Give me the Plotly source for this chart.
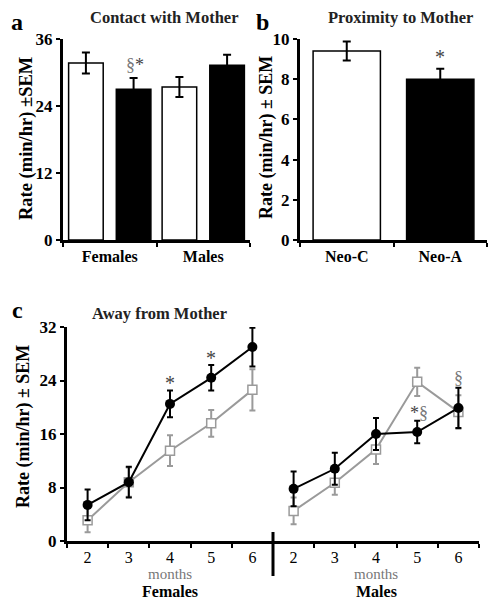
import plotly.graph_objects as go

W, H = 497, 606
SERIF = "Liberation Serif, Times New Roman, serif"
OFF = 8  # page body margin offset

# ---- Panel a data ----
groups_a = ["Females", "Males"]
neo_c_a = [31.7, 27.4]
neo_c_a_err = [1.9, 1.8]
neo_a_a = [27.0, 31.3]
neo_a_a_err = [2.0, 1.9]

# ---- Panel b data ----
groups_b = ["Neo-C", "Neo-A"]
prox_vals = [9.4, 8.0]
prox_err = [0.47, 0.52]

# ---- Panel c data ----
months = ["2", "3", "4", "5", "6"]
away_black_f = [5.4, 8.8, 20.5, 24.4, 29.0]
away_black_f_err = [2.3, 2.3, 2.0, 1.9, 2.9]
away_white_f = [3.1, 8.8, 13.5, 17.6, 22.6]
away_white_f_err = [1.8, 2.2, 2.3, 2.0, 3.1]
away_black_m = [7.8, 10.8, 16.0, 16.3, 19.9]
away_black_m_err = [2.6, 2.4, 2.4, 1.7, 3.0]
away_white_m = [4.5, 8.7, 13.7, 23.8, 19.3]
away_white_m_err = [2.0, 1.8, 2.2, 2.1, 2.5]


def px(x):
    return (x - OFF) / W


def py(y):
    return 1 - (y - OFF) / H


fig = go.Figure()

# Panel a
fig.add_trace(go.Bar(x=groups_a, y=neo_c_a, width=0.37, offset=-0.44,
                     marker=dict(color="white", line=dict(color="black", width=1.5)),
                     error_y=dict(type="data", array=neo_c_a_err, color="black", thickness=2, width=4),
                     xaxis="x", yaxis="y", showlegend=False))
fig.add_trace(go.Bar(x=groups_a, y=neo_a_a, width=0.37, offset=0.07,
                     marker=dict(color="black", line=dict(color="black", width=1.5)),
                     error_y=dict(type="data", array=neo_a_a_err, color="black", thickness=2, width=4),
                     xaxis="x", yaxis="y", showlegend=False))

# Panel b
fig.add_trace(go.Bar(x=groups_b, y=prox_vals, width=0.72,
                     marker=dict(color=["white", "black"], line=dict(color="black", width=1.5)),
                     error_y=dict(type="data", array=prox_err, color="black", thickness=2, width=4),
                     xaxis="x2", yaxis="y2", showlegend=False))

# Panel c
xf = list(range(0, 5))
xm = list(range(5, 10))
GRAY = "#9a9a9a"
for xs, ys, es in [(xf, away_white_f, away_white_f_err), (xm, away_white_m, away_white_m_err)]:
    fig.add_trace(go.Scatter(x=xs, y=ys, mode="lines+markers",
                             line=dict(color=GRAY, width=2),
                             marker=dict(symbol="square", size=9, color="white",
                                         line=dict(color=GRAY, width=1.5)),
                             error_y=dict(type="data", array=es, color=GRAY, thickness=2, width=3),
                             xaxis="x3", yaxis="y3", showlegend=False))
for xs, ys, es in [(xf, away_black_f, away_black_f_err), (xm, away_black_m, away_black_m_err)]:
    fig.add_trace(go.Scatter(x=xs, y=ys, mode="lines+markers",
                             line=dict(color="black", width=2),
                             marker=dict(symbol="circle", size=10, color="black"),
                             error_y=dict(type="data", array=es, color="black", thickness=2, width=3),
                             xaxis="x3", yaxis="y3", showlegend=False))

axis_common = dict(showline=True, linecolor="black", linewidth=3, showgrid=False,
                   zeroline=False, ticks="outside", tickcolor="black", tickwidth=2, ticklen=4,
                   automargin=False)
bold_tick = dict(family=SERIF, size=16, color="black", weight="bold")
ybold_tick = dict(family=SERIF, size=17, color="black", weight="bold")

fig.update_layout(
    template="none",
    width=W, height=H, margin=dict(l=0, r=0, t=0, b=0, pad=0), autosize=False,
    paper_bgcolor="white", plot_bgcolor="white",
    barmode="overlay",
    xaxis=dict(domain=[px(63), px(250)], anchor="y", type="category",
               tickson="boundaries", range=[-0.5, 1.5], tickfont=bold_tick, **axis_common),
    yaxis=dict(domain=[py(240), py(39)], anchor="x", range=[0, 36],
               tickvals=[0, 12, 24, 36], tickfont=ybold_tick, **axis_common),
    xaxis2=dict(domain=[px(300), px(487)], anchor="y2", type="category",
                tickson="boundaries", range=[-0.5, 1.5], tickfont=bold_tick, **axis_common),
    yaxis2=dict(domain=[py(240), py(39)], anchor="x2", range=[0, 10],
                tickvals=[0, 2, 4, 6, 8, 10], tickfont=ybold_tick, **axis_common),
    xaxis3=dict(domain=[px(67), px(479)], anchor="y3", range=[-0.5, 9.5], automargin=False,
                showline=True, linecolor="black", linewidth=3, showgrid=False, zeroline=False,
                tickmode="array", tickvals=list(range(10)), ticktext=months + months,
                ticks="", tickfont=dict(family=SERIF, size=16, color="black"),
                minor=dict(tickvals=[-0.5, 0.5, 1.5, 2.5, 3.5, 5.5, 6.5, 7.5, 8.5, 9.5],
                           ticks="outside", ticklen=4, tickwidth=2, tickcolor="black",
                           showgrid=False)),
    yaxis3=dict(domain=[py(541), py(327)], anchor="x3", range=[0, 32],
                tickvals=[0, 8, 16, 24, 32], tickfont=ybold_tick, **axis_common),
)


def pa(text, x, y, size, color="black", angle=0):
    return dict(text=text, x=px(x), y=py(y), xref="paper", yref="paper",
                xanchor="center", yanchor="middle", textangle=angle,
                showarrow=False, font=dict(family=SERIF, size=size, color=color))


def da(text, x, y, xr, yr, size, color="#444"):
    return dict(text=text, x=x, y=y, xref=xr, yref=yr, xanchor="center", yanchor="middle",
                showarrow=False, font=dict(family=SERIF, size=size, color=color))


ann = []
ann.append(pa("<b>a</b>", 17, 22, 24))
ann.append(pa("<b>Contact with Mother</b>", 164, 18, 16.5, "#222"))
ann.append(pa("<b>b</b>", 262, 22, 24))
ann.append(pa("<b>Proximity to Mother</b>", 400, 18, 16.5, "#222"))
ann.append(pa("<b>c</b>", 17, 310, 24))
ann.append(pa("<b>Away from Mother</b>", 159, 313, 16.5, "#222"))
ann.append(pa("<b>Rate (min/hr) ±SEM</b>", 26, 139, 18.5, angle=-90))
ann.append(pa("<b>Rate (min/hr) ± SEM</b>", 266, 138, 18, angle=-90))
ann.append(pa("<b>Rate (min/hr) ± SEM</b>", 23, 427, 18, angle=-90))
# Significance marks
ann.append(da("<span style='color:#777'>§</span>*", 0.27, 31.3, "x", "y", 18))
ann.append(da("*", 1, 9.1, "x2", "y2", 20))
ann.append(da("*", 2, 23.6, "x3", "y3", 20))
ann.append(da("*", 3, 27.3, "x3", "y3", 20))
ann.append(da("*<span style='color:#777'>§</span>", 8.05, 19.2, "x3", "y3", 18))
ann.append(da("§", 9.0, 24.4, "x3", "y3", 18, "#777"))
# months / sex labels
for xc, sex in [(2, "Females"), (7, "Males")]:
    ann.append(dict(text="months", x=xc, y=py(574), xref="x3", yref="paper",
                    xanchor="center", yanchor="middle", showarrow=False,
                    font=dict(family=SERIF, size=15, color="#777")))
    ann.append(dict(text="<b>" + sex + "</b>", x=xc, y=py(591), xref="x3", yref="paper",
                    xanchor="center", yanchor="middle", showarrow=False,
                    font=dict(family=SERIF, size=16, color="black")))
fig.update_layout(annotations=ann)

fig.add_shape(type="line", xref="paper", yref="paper",
              x0=px(273), x1=px(273), y0=py(532), y1=py(576),
              line=dict(color="black", width=3))

fig.write_html("out.html")
